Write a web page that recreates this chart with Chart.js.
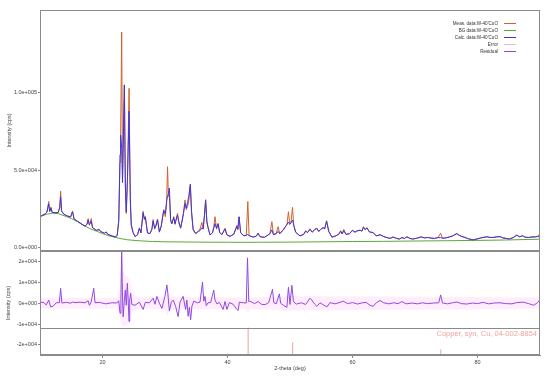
<!DOCTYPE html>
<html>
<head>
<meta charset="utf-8">
<script src="https://cdn.jsdelivr.net/npm/chart.js@4.4.1/dist/chart.umd.min.js"></script>
<style>
html, body { margin: 0; padding: 0; background: #fff; }
#wrap { width: 550px; height: 376px; position: relative; }
</style>
</head>
<body>
<div id="wrap"><canvas id="xrd"></canvas></div>
<script>
// Pattern grid (2-theta, deg) with measured and calculated intensities (cps)
const twoTheta = [
  10.0, 10.4, 10.8, 11.1, 11.4, 11.55, 11.75, 11.95, 12.4, 12.9, 13.15, 13.3, 13.45, 13.8, 14.4, 14.9,
  15.2, 15.45, 16.0, 16.6, 17.2, 17.5, 17.7, 17.9, 18.05, 18.2, 18.4, 19.0, 19.45, 19.7, 20.3, 20.6,
  20.85, 21.5, 22.0, 22.35, 22.6, 22.8, 22.9, 23.07, 23.2, 23.5, 23.65, 23.8, 24.0, 24.25, 24.45, 24.6,
  24.9, 25.2, 25.6, 25.9, 26.15, 26.5, 26.7, 26.85, 27.2, 27.6, 27.9, 28.1, 28.35, 28.55, 28.8, 29.1,
  29.4, 29.55, 29.8, 30.05, 30.25, 30.4, 30.55, 30.7, 30.9, 31.1, 31.4, 31.6, 32.0, 32.2, 32.5, 32.8,
  32.95, 33.2, 33.4, 33.6, 33.8, 34.05, 34.25, 34.5, 34.9, 35.35, 35.6, 35.9, 36.1, 36.3, 36.5, 36.7,
  36.9, 37.2, 37.6, 37.8, 38.0, 38.25, 38.5, 38.75, 39.1, 39.6, 39.9, 40.4, 41.0, 41.5, 41.65, 41.85,
  42.1, 42.6, 43.0, 43.25, 43.45, 44.1, 44.6, 44.9, 45.2, 45.9, 46.5, 46.8, 47.1, 47.35, 47.8, 48.1,
  48.35, 48.9, 49.25, 49.5, 49.75, 49.95, 50.15, 50.4, 50.6, 50.9, 51.6, 52.2, 52.5, 52.8, 53.2, 53.55,
  53.9, 54.3, 54.6, 54.9, 55.3, 55.55, 55.85, 56.2, 56.7, 57.3, 57.8, 58.1, 58.35, 58.6, 58.95, 59.5,
  60.0, 60.4, 60.7, 61.2, 61.5, 61.75, 62.0, 62.3, 62.7, 63.3, 63.8, 64.4, 65.0, 65.6, 66.0, 66.5,
  67.0, 67.5, 67.9, 68.3, 68.7, 69.2, 69.6, 70.3, 71.0, 71.5, 72.0, 72.6, 73.1, 73.7, 74.1, 74.4,
  75.0, 75.5, 76.0, 76.4, 76.7, 77.0, 77.4, 78.0, 78.6, 79.3, 79.9, 80.5, 81.0, 81.5, 82.0, 82.5,
  83.0, 83.6, 84.0, 84.6, 85.1, 85.7, 86.3, 86.7, 87.2, 87.6, 88.2, 88.7, 89.3, 89.6, 89.9, 90.0
];
const measCounts = [
  20200, 21000, 21800, 23000, 29800, 23500, 26200, 22800, 22600, 22800, 26000, 36500, 23500, 21700, 20500, 19800,
  23500, 18600, 17000, 15500, 14000, 15000, 18800, 14500, 16500, 18800, 13000, 11200, 12000, 10500, 9300, 10200,
  8600, 7600, 7000, 8000, 18000, 55000, 72000, 139000, 45000, 105000, 42000, 22000, 44000, 102800, 30000, 14000,
  9500, 7200, 8200, 12800, 9500, 23500, 18000, 20200, 9500, 9200, 12000, 18200, 12000, 14500, 18500, 10000,
  14000, 18200, 24500, 20000, 28000, 52200, 33000, 33500, 17000, 15500, 20000, 15000, 22200, 16000, 12500, 19000,
  22500, 30800, 24500, 26500, 30000, 40000, 22000, 11400, 9000, 10800, 12000, 16300, 12000, 20000, 31000, 16000,
  12500, 8200, 9800, 13500, 20000, 12000, 15800, 9500, 8500, 12600, 8300, 7300, 8600, 13600, 11500, 19800,
  9500, 7600, 8000, 29800, 7800, 6800, 7500, 9500, 7100, 6700, 8200, 9500, 16800, 8500, 9200, 13600,
  9200, 11500, 13500, 14500, 23200, 15500, 16000, 26000, 14500, 10000, 7600, 8700, 11000, 9800, 12200, 10000,
  11800, 12600, 10500, 11800, 13200, 12000, 17400, 10500, 6800, 7600, 8800, 11000, 8900, 11800, 8600, 9000,
  11400, 10000, 10800, 11400, 10500, 13600, 11500, 13000, 10200, 9800, 7600, 8300, 7200, 6400, 6000, 7000,
  6000, 5500, 6700, 6000, 7200, 6000, 5500, 6100, 7100, 6300, 6600, 6200, 6000, 6600, 9400, 6100,
  6400, 7000, 7600, 8600, 9300, 8200, 7400, 6600, 5600, 5000, 5600, 6200, 6800, 7100, 6600, 6600,
  7000, 7200, 6400, 6000, 5600, 6500, 8300, 7000, 7700, 6700, 6600, 6900, 7000, 7400, 8300, 7600
];
const calcCounts = [
  20000, 20900, 21600, 22800, 28300, 23300, 25500, 22700, 22500, 22600, 25500, 32800, 23800, 21600, 20400, 19800,
  23200, 18600, 17000, 15400, 13900, 15000, 17800, 14800, 16000, 17200, 13000, 11200, 11600, 10400, 9300, 10100,
  8600, 7600, 7000, 7800, 17000, 60000, 72500, 64000, 42000, 105000, 40000, 23000, 46000, 88000, 32000, 15000,
  9800, 7200, 8400, 12500, 9600, 22500, 18500, 19800, 9500, 9100, 11800, 17200, 12500, 14000, 18000, 10200,
  14000, 17800, 24000, 22000, 30000, 33000, 35000, 38500, 18000, 15500, 19500, 15500, 21000, 17000, 12800, 18500,
  22000, 28500, 25500, 29000, 33000, 41000, 23500, 12000, 9200, 10500, 11000, 12800, 12000, 20500, 30500, 17000,
  13000, 8300, 9500, 12500, 15500, 12500, 15300, 9800, 8500, 12000, 8400, 7300, 8800, 14200, 12000, 20000,
  9800, 7700, 8000, 8500, 7800, 6800, 7400, 9200, 7100, 6700, 8200, 9000, 11500, 8400, 9000, 10500,
  9000, 11200, 13500, 15000, 16500, 15000, 16000, 17800, 14500, 10000, 7600, 8600, 10600, 9800, 11800, 10000,
  11400, 12400, 10500, 11800, 12800, 12300, 17200, 10500, 6800, 7600, 8600, 10500, 8800, 11000, 8600, 9000,
  11000, 10000, 10800, 11200, 10800, 13200, 11800, 12600, 10200, 9700, 7600, 8400, 7200, 6400, 6000, 6800,
  6100, 5600, 6400, 6000, 6900, 6000, 5600, 6100, 6900, 6300, 6600, 6200, 6000, 6500, 6500, 6100,
  6400, 6900, 7500, 8400, 9000, 8100, 7400, 6600, 5700, 5100, 5600, 6300, 6600, 7000, 6600, 6600,
  6900, 7100, 6400, 6000, 5600, 6500, 8000, 7000, 7700, 6800, 6600, 6900, 7000, 7200, 7100, 7300
];

// Background curve
const bgTheta = [10, 11, 12, 13, 14, 15, 16, 17, 18, 19, 20, 21, 22, 23, 24, 26, 28, 30, 35, 40, 45, 50, 55, 60, 65, 70, 75, 80, 85, 90];
const bgCounts = [20000, 21500, 22300, 21900, 20400, 18800, 16800, 14300, 12300, 10700, 9100, 7700, 6700, 5800, 5100, 4400, 4000, 3800, 3600, 3500, 3500, 3600, 3800, 4000, 4100, 4300, 4500, 4700, 5000, 5500];

// Difference curve (meas - calc)
const resTheta = [
  10.0, 10.6, 11.0, 11.4, 11.7, 12.1, 12.6, 13.1, 13.3, 13.5, 14.2, 14.9, 15.2, 15.6, 16.4, 17.2,
  17.7, 17.9, 18.2, 18.6, 18.8, 19.5, 20.5, 21.5, 22.3, 22.6, 22.8, 22.95, 23.07, 23.2, 23.3, 23.5,
  23.65, 23.8, 23.97, 24.1, 24.24, 24.35, 24.5, 24.7, 25.2, 25.9, 26.5, 26.85, 27.5, 28.1, 28.4, 28.7,
  29.1, 29.5, 30.0, 30.3, 30.45, 30.7, 31.0, 31.3, 31.7, 32.1, 32.4, 32.9, 33.3, 33.5, 33.7, 33.9,
  34.1, 34.3, 34.6, 35.2, 35.6, 36.0, 36.2, 36.4, 36.6, 36.9, 37.3, 37.8, 38.0, 38.3, 38.7, 39.3,
  39.6, 39.9, 40.3, 40.9, 41.5, 41.7, 41.9, 42.5, 43.0, 43.2, 43.4, 43.6, 44.3, 44.9, 45.4, 46.0,
  46.6, 47.2, 47.4, 47.8, 48.3, 48.5, 48.9, 49.5, 49.75, 50.0, 50.3, 50.55, 51.0, 51.8, 52.5, 53.2,
  53.5, 53.9, 54.3, 54.8, 55.3, 55.9, 56.4, 57.2, 58.0, 58.5, 59.2, 60.0, 60.8, 61.6, 62.2, 62.8,
  63.3, 63.8, 64.4, 65.0, 65.8, 66.6, 67.3, 67.9, 68.6, 69.5, 70.4, 71.2, 72.0, 73.0, 73.8, 74.1,
  74.4, 75.2, 76.0, 76.7, 77.4, 78.3, 79.2, 80.0, 80.9, 81.8, 82.7, 83.6, 84.5, 85.5, 86.3, 87.3,
  88.2, 89.0, 89.6, 90.0
];
const resCounts = [
  500, 300, -800, 1500, -1800, -1400, 200, 300, 7200, 100, 400, 0, 600, 300, 500, 200,
  1200, -1000, 700, 7200, 200, 400, -300, 200, 100, 1200, -4800, 3000, 24800, 3000, -6500, 1500,
  6400, -1000, 9600, 2000, -8800, 1500, 4800, -600, -1000, 500, -3000, 400, 200, 2400, -500, 3300,
  0, -2500, 3400, 8800, 4800, -3800, 500, 1500, -1500, -6500, 500, 3300, -3000, 1500, -6300, -2000,
  -8000, -1500, 1000, 200, 500, 10200, 1000, 3300, -1200, 200, 300, 6300, 1500, -300, 400, -3000,
  800, -3000, 300, -500, -3000, -3500, 500, 200, 100, 21800, 800, 1000, -200, 800, -500, -700,
  300, 6700, 300, -300, 4500, 0, -900, -2000, 7700, -600, 8600, 800, -400, 200, -600, 2400,
  1500, -300, -1500, 200, -700, -1800, 300, -300, 400, 1000, -200, 300, -400, 200, 400, -1000,
  -1500, 200, 1300, 200, -300, 200, -200, 800, -300, 100, -300, 200, -200, 100, 200, 4000,
  100, -300, 200, 600, -200, -400, 100, -200, 400, -300, 100, 200, -200, -300, 300, 500,
  -200, -1000, 300, 1700
];

// Error envelope in the residual panel (upper and lower edge, cps)
const errTheta = [10, 22.3, 22.7, 23.07, 23.5, 24.3, 24.8, 26.0, 30.0, 30.4, 30.8, 42.9, 43.25, 43.6, 50.4, 90];
const errHigh = [2600, 2600, 6000, 25000, 14000, 12000, 4000, 2800, 3000, 7000, 3000, 2800, 6000, 2800, 3500, 2800];
const errLow = [-2600, -2600, -5000, -11000, -11000, -10000, -4000, -2800, -3000, -6000, -3000, -2800, -5000, -2800, -3500, -2800];

// Reference phase sticks
const refPhase = 'Copper, syn, Cu, 04-002-8854';
const cuTheta = [43.30, 50.43, 74.13, 89.93];
const cuRel = [100, 46, 20, 17];

const xTicks = [20, 40, 60, 80];
const mainTicks = [0, 50000, 100000];
const resTicks = [-20000, -10000, 0, 10000, 20000];

const resMin = -24900, resMax = 25100;
const refPanelTop = -11700; // where the stick panel starts on the residual axis

Chart.defaults.font.family = '"Liberation Sans", Arial, sans-serif';

function sci(v, digits) {
    if (v === 0) return (0).toFixed(digits) + 'e+000';
    const e = Math.floor(Math.log10(Math.abs(v)));
    const m = v / Math.pow(10, e);
    return m.toFixed(digits) + 'e' + (e < 0 ? '-' : '+') + String(Math.abs(e)).padStart(3, '0');
}

const pts = (xs, ys) => xs.map((x, i) => ({ x: x, y: ys[i] }));

const stickPts = [];
cuTheta.forEach((t, i) => {
    stickPts.push({ x: t, y: resMin });
    stickPts.push({ x: t, y: resMin + cuRel[i] / 100 * (refPanelTop - resMin) });
    stickPts.push({ x: t, y: null });
});

const colors = {
    meas: '#d0622a',
    bg: '#5aa83c',
    calc: '#3b35e0',
    error: '#e3b6ea',
    residual: '#9048e4',
    stick: '#eaa39b'
};

const legendOrder = ["Meas. data:W-40'CuO", "BG data:W-40'CuO", "Calc. data:W-40'CuO", 'Error', 'Residual'];

// frames, panel separator, legend and phase label
const framePlugin = {
    id: 'frames',
    afterDraw(chart) {
        const { ctx, chartArea } = chart;
        const yMain = chart.scales.y;
        const yRes = chart.scales.yRes;
        const left = chartArea.left + 0.5;
        const w = chartArea.right - chartArea.left - 1;
        ctx.save();
        ctx.strokeStyle = '#8a8a8a';
        ctx.lineWidth = 1;
        [yMain, yRes].forEach(s => {
            ctx.strokeRect(left, Math.round(s.top) + 0.5, w, Math.round(s.bottom - s.top) - 1);
        });
        const ySep = Math.round(yRes.getPixelForValue(refPanelTop)) + 0.5;
        ctx.beginPath();
        ctx.moveTo(left, ySep);
        ctx.lineTo(left + w, ySep);
        ctx.stroke();

        ctx.fillStyle = '#f0a49c';
        ctx.font = '7.5px "Liberation Sans", Arial, sans-serif';
        ctx.textAlign = 'right';
        ctx.textBaseline = 'top';
        ctx.fillText(refPhase, chartArea.right - 3, ySep + 1.5);

        ctx.font = '4.6px "Liberation Sans", Arial, sans-serif';
        ctx.textBaseline = 'middle';
        legendOrder.forEach((label, i) => {
            const ds = chart.data.datasets.find(d => d.label === label);
            const y = Math.round(chartArea.top + 13.3 + i * 7) + 0.5;
            ctx.fillStyle = '#333';
            ctx.fillText(label, chartArea.right - 42, y);
            ctx.strokeStyle = ds.legendColor || ds.borderColor;
            ctx.beginPath();
            ctx.moveTo(chartArea.right - 36, y);
            ctx.lineTo(chartArea.right - 24, y);
            ctx.stroke();
        });
        ctx.restore();
    }
};

const tickFont = { size: 5.5 };

new Chart(document.getElementById('xrd'), {
    type: 'line',
    data: {
        datasets: [
            { label: "Calc. data:W-40'CuO", data: pts(twoTheta, calcCounts), borderColor: colors.calc, yAxisID: 'y' },
            { label: "Meas. data:W-40'CuO", data: pts(twoTheta, measCounts), borderColor: colors.meas, yAxisID: 'y' },
            { label: "BG data:W-40'CuO", data: pts(bgTheta, bgCounts), borderColor: colors.bg, yAxisID: 'y' },
            { label: 'Residual', data: pts(resTheta, resCounts), borderColor: colors.residual, yAxisID: 'yRes' },
            { label: 'Error', data: pts(errTheta, errHigh), borderColor: 'rgba(0,0,0,0)', legendColor: colors.error, borderWidth: 0, yAxisID: 'yRes' },
            { label: 'Error-', data: pts(errTheta, errLow), borderColor: 'rgba(0,0,0,0)', borderWidth: 0,
              backgroundColor: 'rgba(255,175,235,0.22)', fill: '-1', yAxisID: 'yRes' },
            { label: refPhase, data: stickPts, borderColor: colors.stick, yAxisID: 'yRes', spanGaps: false }
        ]
    },
    options: {
        responsive: true,
        maintainAspectRatio: false,
        animation: false,
        layout: { padding: { top: 10, right: 10, left: 0, bottom: 0 } },
        plugins: { legend: { display: false }, tooltip: { enabled: false } },
        elements: { point: { radius: 0 }, line: { borderWidth: 1, tension: 0 } },
        scales: {
            x: {
                type: 'linear', min: 10, max: 90,
                afterBuildTicks: s => { s.ticks = xTicks.map(v => ({ value: v })); },
                afterFit: s => { s.height = 21; },
                grid: { drawOnChartArea: false, tickLength: 3, color: '#8a8a8a' },
                border: { color: '#8a8a8a' },
                ticks: { font: tickFont, color: '#444', padding: 1, maxRotation: 0 },
                title: { display: true, text: '2-theta (deg)', font: tickFont, color: '#444', padding: { top: 0, bottom: 4.5 } }
            },
            yRes: {
                type: 'linear', position: 'left', stack: 'xrd', stackWeight: 104,
                min: resMin, max: resMax,
                afterBuildTicks: s => { s.ticks = resTicks.map(v => ({ value: v })); },
                afterFit: s => { s.width = 40; },
                grid: { drawOnChartArea: false, tickLength: 2, color: '#8a8a8a' },
                border: { color: '#8a8a8a' },
                ticks: { font: tickFont, color: '#444', padding: 1, callback: v => sci(v, 0) },
                title: { display: true, text: 'Intensity (cps)', font: tickFont, color: '#444', padding: { top: 5, bottom: 0 } }
            },
            y: {
                type: 'linear', position: 'left', stack: 'xrd', stackWeight: 241,
                min: -2130, max: 153300,
                afterBuildTicks: s => { s.ticks = mainTicks.map(v => ({ value: v })); },
                afterFit: s => { s.width = 40; },
                grid: { drawOnChartArea: false, tickLength: 2, color: '#8a8a8a' },
                border: { color: '#8a8a8a' },
                ticks: { font: tickFont, color: '#444', padding: 1, callback: v => sci(v, 1) },
                title: { display: true, text: 'Intensity (cps)', font: tickFont, color: '#444', padding: { top: 6, bottom: 0 } }
            }
        }
    },
    plugins: [framePlugin]
});
</script>
</body>
</html>
